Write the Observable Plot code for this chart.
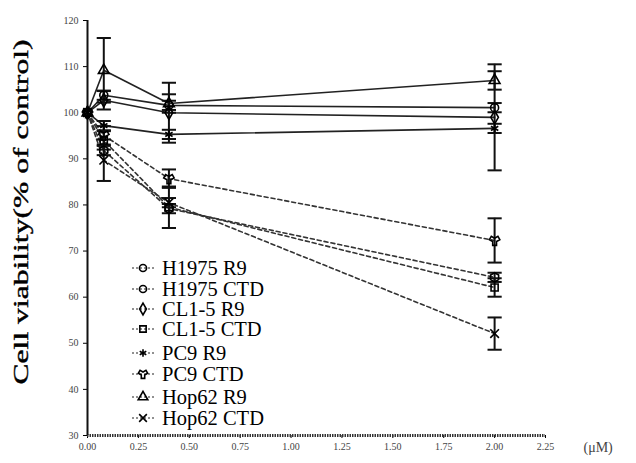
<!DOCTYPE html>
<html>
<head>
<meta charset="utf-8">
<script src="https://cdn.jsdelivr.net/npm/d3@7"></script>
<script src="https://cdn.jsdelivr.net/npm/@observablehq/plot@0.6"></script>
<style>
  html, body { margin: 0; padding: 0; background: #fff; }
  #wrap { position: relative; width: 636px; height: 463px; }
  #legend { position: absolute; left: 0; top: 0; font-family: "Liberation Serif", serif; font-size: 20.5px; color: #000; }
  .row { position: absolute; left: 130px; display: flex; align-items: center; height: 18px; line-height: 18px; white-space: nowrap; }
  .row span { line-height: 18px; }
  .row svg { margin-right: 6px; }
</style>
</head>
<body>
<div id="wrap"><div id="legend"></div></div>
<script>
const doses = [0, 0.08, 0.4, 2];
const seriesNames = ["H1975 R9", "H1975 CTD", "CL1-5 R9", "CL1-5 CTD", "PC9 R9", "PC9 CTD", "Hop62 R9", "Hop62 CTD"];
const h1975R9 = [100, 103.8, 101.6, 101.1];
const h1975CTD = [100, 91.8, 79.2, 64.3];
const cl15R9 = [100, 102.7, 100, 99];
const cl15CTD = [100, 94, 79.5, 62.1];
const pc9R9 = [100, 97.2, 95.3, 96.6];
const pc9CTD = [100, 95.1, 85.7, 72.3];
const hop62R9 = [100, 109.2, 102, 107];
const hop62CTD = [100, 89.7, 80.5, 52.1];
const h1975R9Sd = [0, 1, 1, 1];
const h1975CTDSd = [0, 1, 1, 1];
const cl15R9Sd = [0, 2, 6.5, 11.5];
const cl15CTDSd = [0, 2, 4.5, 2];
const pc9R9Sd = [0, 1, 1, 1];
const pc9CTDSd = [0, 2, 2, 4.8];
const hop62R9Sd = [0, 7, 2, 2];
const hop62CTDSd = [0, 4.5, 1, 3.5];
const xTicks = [0, 0.25, 0.5, 0.75, 1, 1.25, 1.5, 1.75, 2, 2.25];
const yTicks = [30, 40, 50, 60, 70, 80, 90, 100, 110, 120];
const yLabel = "Cell viability(% of control)";
const xUnit = "(\u03bcM)";

const valuesList = [h1975R9, h1975CTD, cl15R9, cl15CTD, pc9R9, pc9CTD, hop62R9, hop62CTD];
const sdList = [h1975R9Sd, h1975CTDSd, cl15R9Sd, cl15CTDSd, pc9R9Sd, pc9CTDSd, hop62R9Sd, hop62CTDSd];
const symbols = ["circle", "hexagon", "diamond", "square", "asterisk", "wye", "triangle", "times"];

const rows = [];
seriesNames.forEach((name, i) => {
  doses.forEach((d, j) => {
    rows.push({series: name, dose: d, value: valuesList[i][j], sd: sdList[i][j], ctd: name.endsWith("CTD")});
  });
});
const errRows = rows.filter(r => r.sd > 0);

const hbar = {draw(ctx, size) { const w = Math.sqrt(size); ctx.moveTo(-w, 0); ctx.lineTo(w, 0); }};

const chart = Plot.plot({
  width: 636,
  height: 463,
  marginLeft: 87,
  marginRight: 91,
  marginTop: 20,
  marginBottom: 28,
  style: {fontFamily: "Liberation Serif, serif", background: "transparent"},
  x: {domain: [0, 2.25]},
  y: {domain: [30, 120]},
  symbol: {domain: seriesNames, range: symbols},
  marks: [
    Plot.axisX({ticks: xTicks, tickFormat: d3.format(".2f"), tickSize: 3, fontSize: 10, fill: "#444", label: null, tickPadding: 4}),
    Plot.axisY({ticks: yTicks, tickSize: 4, fontSize: 10, fill: "#444", label: null}),
    Plot.text([yLabel], {frameAnchor: "left", textAnchor: "middle", dx: -67, dy: -16, rotate: -90, fontSize: 22, fill: "#000", stroke: "#000", strokeWidth: 0.4, className: "ylab"}),
    Plot.ruleY([30], {stroke: "#333", strokeWidth: 3, strokeDasharray: "1.5,1"}),
    Plot.ruleX([0], {stroke: "#111", strokeWidth: 2}),
    Plot.line(rows.filter(r => !r.ctd), {x: "dose", y: "value", z: "series", stroke: "#222", strokeWidth: 1.6}),
    Plot.line(rows.filter(r => r.ctd), {x: "dose", y: "value", z: "series", stroke: "#333", strokeWidth: 1.6, strokeDasharray: "4,3"}),
    Plot.ruleX(errRows, {x: "dose", y1: d => d.value - d.sd, y2: d => d.value + d.sd, stroke: "#111", strokeWidth: 2}),
    Plot.dot(errRows, {x: "dose", y: d => d.value + d.sd, symbol: () => hbar, r: 4, stroke: "#111", strokeWidth: 2}),
    Plot.dot(errRows, {x: "dose", y: d => d.value - d.sd, symbol: () => hbar, r: 4, stroke: "#111", strokeWidth: 2}),
    Plot.dot(rows, {x: "dose", y: "value", symbol: "series", r: 4, stroke: "#000", strokeWidth: 1.6, fill: "none"}),
    Plot.text([xUnit], {frameAnchor: "bottom-right", dx: 38, dy: 16, fontSize: 14, fill: "#444", textAnchor: "start"})
  ]
});
document.getElementById("wrap").prepend(chart);
const yl = chart.querySelector(".ylab text");
if (yl) { yl.setAttribute("textLength", 345); yl.setAttribute("lengthAdjust", "spacingAndGlyphs"); }

const legendCenters = [268, 289, 309, 329, 353, 374, 397, 418];
const legend = d3.select("#legend");
seriesNames.forEach((name, i) => {
  const row = legend.append("div").attr("class", "row").style("top", (legendCenters[i] - 9) + "px");
  const s = row.append("svg").attr("width", 26).attr("height", 16);
  s.append("line").attr("x1", 2).attr("x2", 24).attr("y1", 8).attr("y2", 8).attr("stroke", "#222").attr("stroke-width", 1.2).attr("stroke-dasharray", "2,2");
  const symType = {circle: d3.symbolCircle, hexagon: d3.symbolCircle, diamond: d3.symbolDiamond, square: d3.symbolSquare, asterisk: d3.symbolAsterisk, wye: d3.symbolWye, triangle: d3.symbolTriangle, times: d3.symbolTimes}[symbols[i]];
  s.append("path").attr("d", d3.symbol(symType, 40)()).attr("transform", "translate(13,8)").attr("stroke", "#000").attr("stroke-width", 1.6).attr("fill", "none");
  row.append("span").text(name);
});
</script>
</body>
</html>
